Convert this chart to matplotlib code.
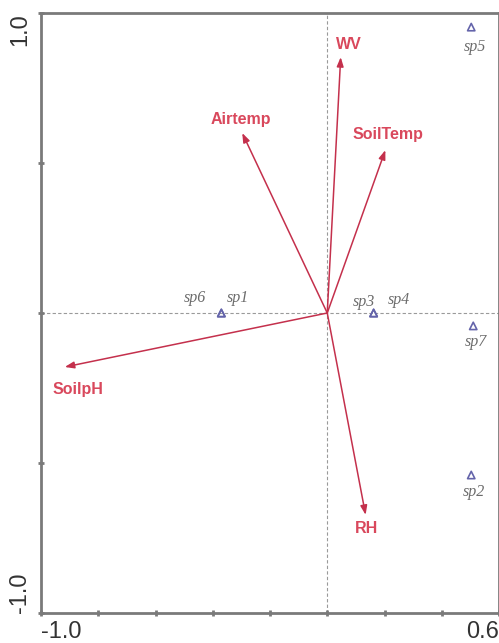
import matplotlib
matplotlib.use("Agg")
import matplotlib.pyplot as plt
import numpy as np

# environmental variables (arrow tips)
env_names = ["WV", "Airtemp", "SoilTemp", "SoilpH", "RH"]
env_x = [0.047, -0.297, 0.203, -0.917, 0.134]
env_y = [0.853, 0.600, 0.543, -0.180, -0.673]

# species scores
sp_names = ["sp1", "sp6", "sp3", "sp4", "sp5", "sp7", "sp2"]
sp_x = [-0.370, -0.370, 0.162, 0.162, 0.503, 0.510, 0.503]
sp_y = [0.0, 0.0, 0.0, 0.0, 0.953, -0.043, -0.540]

x_ticks = [-1.0, -0.8, -0.6, -0.4, -0.2, 0.0, 0.2, 0.4, 0.6]
y_ticks = [-1.0, -0.5, 0.0, 0.5, 1.0]

# label offsets in points (layout only)
env_offsets = {"WV": (6, 9), "Airtemp": (-1, 9.5), "SoilTemp": (2, 11),
               "SoilpH": (9.5, -16.5), "RH": (1, -9.5)}
sp_offsets = {"sp6": (-19, 11), "sp1": (12, 11), "sp3": (-7, 8), "sp4": (18, 9.5),
              "sp5": (3, -14.5), "sp7": (2, -11.5), "sp2": (2, -12)}

ARROW = "#c4304c"
ENV_TXT = "#d9485c"
SP_MARK = "#6464aa"
SP_TXT = "#6b6b6b"
SPINE = "#7a7a7a"

fig = plt.figure(figsize=(4.99, 6.43), dpi=100)
ax = fig.add_axes([41 / 499, 30 / 643, 458 / 499, 600 / 643])
ax.set_xlim(-1.0, 0.6)
ax.set_ylim(-1.0, 1.0)

ax.axhline(0, color="#9a9a9a", lw=0.8, ls=(0, (3, 2)), zorder=1)
ax.axvline(0, color="#9a9a9a", lw=0.8, ls=(0, (3, 2)), zorder=1)

for name, x, y in zip(env_names, env_x, env_y):
    ax.annotate("", xy=(x, y), xytext=(0, 0),
                arrowprops=dict(arrowstyle="-|>,head_length=0.55,head_width=0.2",
                                color=ARROW, lw=1.1, shrinkA=0, shrinkB=0),
                zorder=3)
    ax.annotate(name, xy=(x, y), xytext=env_offsets[name], textcoords="offset points",
                ha="center", va="center", color=ENV_TXT, fontsize=11.5,
                fontweight="bold", family="Liberation Sans", zorder=4)

ax.scatter(sp_x, sp_y, marker="^", s=28, facecolors="none", edgecolors=SP_MARK,
           linewidths=1.2, zorder=5)
for name, x, y in zip(sp_names, sp_x, sp_y):
    ax.annotate(name, xy=(x, y), xytext=sp_offsets[name], textcoords="offset points",
                ha="center", va="center", color=SP_TXT, fontsize=11.5,
                style="italic", family="Liberation Serif", zorder=4)

ax.set_xticks(x_ticks)
ax.set_xticklabels(["-1.0"] + [""] * (len(x_ticks) - 2) + ["0.6"])
ax.set_yticks(y_ticks)
ax.set_yticklabels(["-1.0", "", "", "", "1.0"], rotation=90)
ax.tick_params(direction="inout", length=4, width=2, color=SPINE,
               labelsize=17, labelcolor="#333333")
ax.tick_params(axis="x", pad=4)
ax.tick_params(axis="y", pad=5)
for lab in ax.get_xticklabels():
    lab.set_fontfamily("Liberation Sans")
xl = ax.get_xticklabels()
xl[0].set_ha("left")
xl[-1].set_ha("right")
yl = ax.get_yticklabels()
for lab in yl:
    lab.set_fontfamily("Liberation Sans")
yl[0].set_va("bottom")
yl[-1].set_va("top")

for side in ["left", "bottom", "top", "right"]:
    ax.spines[side].set_color(SPINE)
    ax.spines[side].set_linewidth(2)

fig.savefig("out.png", dpi=100)
